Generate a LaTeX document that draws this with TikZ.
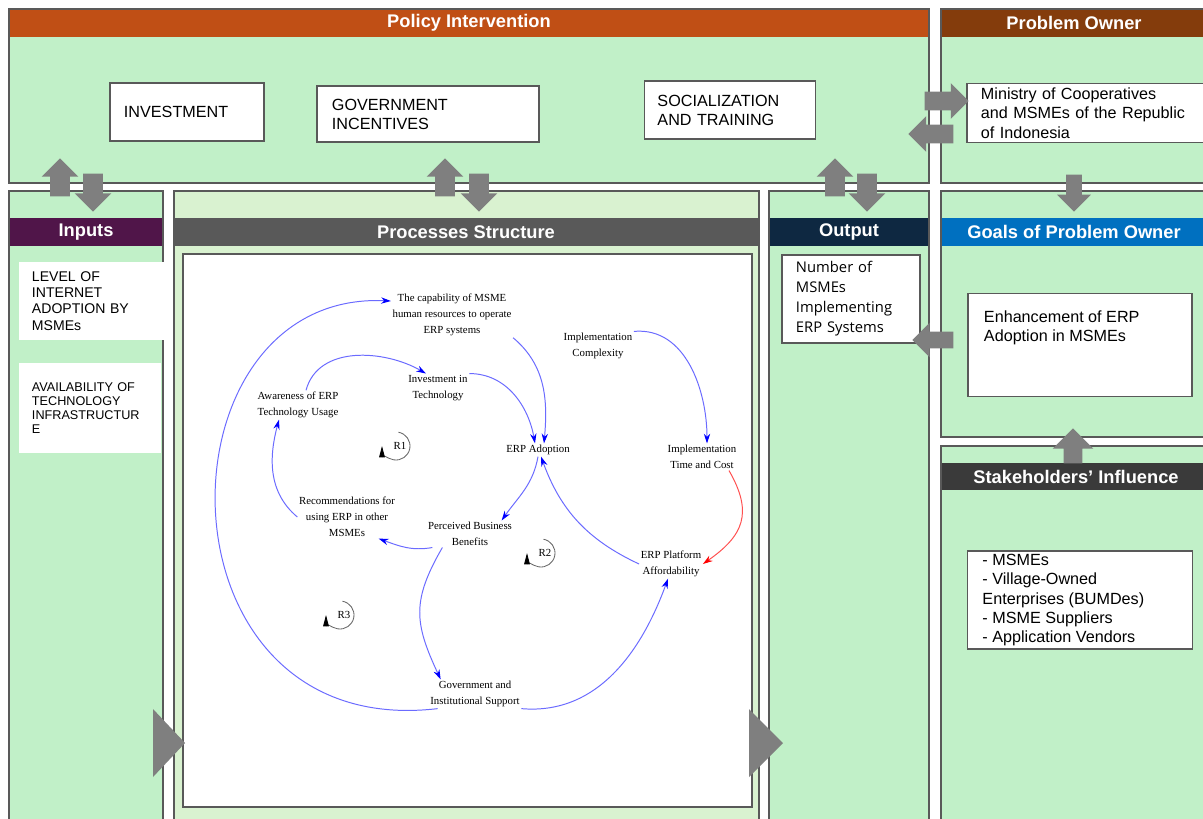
\documentclass[tikz,border=0pt]{standalone}
\usepackage{fontspec}
\setmainfont{Liberation Sans}
\newfontfamily\cldfont{Liberation Serif}
\newfontfamily\outfont{Open Sans}
\usetikzlibrary{arrows.meta,shapes.arrows,positioning}

\definecolor{panelgreen}{HTML}{C1F0C8}
\definecolor{procgreen}{HTML}{D9F2D0}
\definecolor{framegray}{HTML}{595959}
\definecolor{arrgray}{HTML}{7F7F7F}
\definecolor{policyhead}{HTML}{C04F15}
\definecolor{ownerhead}{HTML}{843C0C}
\definecolor{inputhead}{HTML}{501549}
\definecolor{processhead}{HTML}{595959}
\definecolor{outputhead}{HTML}{0E2841}
\definecolor{goalhead}{HTML}{0070C0}
\definecolor{stakehead}{HTML}{3A3A3A}
\definecolor{linkblue}{HTML}{6B6BFF}
\definecolor{linkred}{HTML}{FF5050}

\tikzset{
  panelframe/.style={draw=framegray, line width=1.6pt},
  hdr/.style={text=white, font=\bfseries\fontsize{13}{15}\selectfont, inner sep=0pt},
  wbox/.style={draw=framegray, line width=1.3pt, fill=white, align=left, font=\fontsize{11.5}{13.6}\selectfont, inner sep=0pt},
  inbox/.style={fill=white, align=left, inner sep=0pt},
  blockarr/.style={single arrow, fill=arrgray, inner xsep=0pt, inner ysep=0.2375cm, single arrow head extend=0.2125cm, single arrow tip angle=90},
  var/.style={align=center, font=\cldfont\fontsize{7.7}{11.4}\selectfont, inner sep=1pt},
  link/.style={linkblue, line width=0.7pt, -{Stealth[length=7pt,width=4.5pt,color=blue]}},
  neglink/.style={linkred, line width=0.7pt, -{Stealth[length=7pt,width=4.5pt,color=red]}},
  loopmark/.style={black!60, line width=0.6pt, -{Triangle[length=8pt,width=4pt,color=black]}}
}

\begin{document}
\begin{tikzpicture}[x=0.025cm, y=0.025cm]
	\useasboundingbox (0,0) rectangle (1203,-818);
	\clip (0,0) rectangle (1203,-818);
	
	%Panels
	%Policy Intervention
	\fill[panelgreen] (9,-9) rectangle (929,-183);
	\fill[policyhead] (9,-9) rectangle (929,-37);
	\draw[panelframe] (9,-9) rectangle (929,-183);
	\node[hdr] (policyhdr) at (469,-23) {Policy Intervention};
	%Problem Owner
	\fill[panelgreen] (941,-9) rectangle (1215,-183);
	\fill[ownerhead] (941,-9) rectangle (1215,-37);
	\draw[panelframe] (941,-9) rectangle (1215,-183);
	\node[hdr] (ownerhdr) at (1074,-23) {Problem Owner};
	%Inputs
	\fill[panelgreen] (9,-191) rectangle (163,-830);
	\fill[inputhead] (9,-218) rectangle (163,-246);
	\draw[panelframe] (9,-191) rectangle (163,-830);
	\node[hdr] (inputhdr) at (86,-232) {Inputs};
	%Processes
	\fill[procgreen] (174,-191) rectangle (759,-830);
	\fill[processhead] (174,-218) rectangle (759,-246);
	\draw[panelframe] (174,-191) rectangle (759,-830);
	\node[hdr] (prochdr) at (466,-232) {Processes Structure};
	\draw[panelframe, fill=white] (183,-254) rectangle (752,-807);
	%Output
	\fill[panelgreen] (769,-191) rectangle (929,-830);
	\fill[outputhead] (769,-218) rectangle (929,-246);
	\draw[panelframe] (769,-191) rectangle (929,-830);
	\node[hdr] (outhdr) at (849,-232) {Output};
	%Goals
	\fill[panelgreen] (941,-191) rectangle (1215,-437);
	\fill[goalhead] (941,-218) rectangle (1215,-246);
	\draw[panelframe] (941,-191) rectangle (1215,-437);
	\node[hdr] (goalhdr) at (1074,-232) {Goals of Problem Owner};
	%Stakeholders
	\fill[panelgreen] (941,-446) rectangle (1215,-830);
	\fill[stakehead] (941,-463) rectangle (1215,-490);
	\draw[panelframe] (941,-446) rectangle (1215,-830);
	\node[hdr] (stakehdr) at (1076,-477) {Stakeholders' Influence};
	
	%Boxes
	\node[wbox, minimum width=3.85cm, minimum height=1.45cm, text width=3.15cm] (invest) at (187,-112) {INVESTMENT};
	\node[wbox, minimum width=5.55cm, minimum height=1.4cm, text width=4.8cm] (incent) at (428,-114) {GOVERNMENT\\INCENTIVES};
	\node[wbox, minimum width=4.275cm, minimum height=1.45cm, text width=3.625cm] (social) at (730,-110) {SOCIALIZATION\\AND TRAINING};
	\node[wbox, font=\fontsize{11.5}{13.9}\selectfont, minimum width=6.15cm, minimum height=1.475cm, text width=5.45cm] (ministry) at (1090,-113) {Ministry of Cooperatives\\and MSMEs of the Republic\\of Indonesia};
	\node[inbox, font=\fontsize{10}{11.5}\selectfont, minimum width=3.65cm, minimum height=1.925cm, text width=3cm] (inetbox) at (92,-301) {LEVEL OF\\INTERNET\\ADOPTION BY\\MSMEs};
	\node[inbox, font=\fontsize{9}{10}\selectfont, minimum width=3.55cm, minimum height=2.25cm, text width=2.9cm] (infrabox) at (90,-408) {AVAILABILITY OF\\TECHNOLOGY\\INFRASTRUCTUR\\E};
	\node[wbox, font=\outfont\fontsize{10.5}{14.2}\selectfont, minimum width=3.45cm, minimum height=2.2cm, text width=2.75cm] (outbox) at (851,-299) {Number of\\MSMEs\\Implementing\\ERP Systems};
	\node[wbox, minimum width=5.6cm, minimum height=2.575cm] (goalbox) at (1080,-345) {\parbox[c][1.7cm][t]{4.8cm}{Enhancement of ERP\\Adoption in MSMEs}};
	\node[wbox, font=\fontsize{11.5}{13.8}\selectfont, minimum width=5.625cm, minimum height=2.45cm] (stakebox) at (1080,-600) {\parbox[c][2.3cm][t]{4.875cm}{- MSMEs\\- Village-Owned\\Enterprises (BUMDes)\\- MSME Suppliers\\- Application Vendors}};
	
	%Block arrows
	\node[blockarr, minimum height=0.95cm, rotate=90, anchor=tip] (inup) at (60,-158) {};
	\node[blockarr, minimum height=0.95cm, rotate=-90, anchor=tip] (indown) at (93,-212) {};
	\node[blockarr, minimum height=0.95cm, rotate=90, anchor=tip] (procup) at (445,-158) {};
	\node[blockarr, minimum height=0.95cm, rotate=-90, anchor=tip] (procdown) at (479,-212) {};
	\node[blockarr, minimum height=0.95cm, rotate=90, anchor=tip] (outup) at (835,-158) {};
	\node[blockarr, minimum height=0.95cm, rotate=-90, anchor=tip] (outdown) at (867,-212) {};
	\node[blockarr, minimum height=1.1cm, inner ysep=0.225cm] (toowner) at (942,-101) {};
	\node[blockarr, minimum height=1.125cm, inner ysep=0.225cm, rotate=180, anchor=tip] (fromowner) at (908,-134) {};
	\node[blockarr, minimum height=0.925cm, inner ysep=0.19cm, single arrow head extend=0.225cm, rotate=-90, anchor=tip] (togoal) at (1074,-212) {};
	\node[blockarr, minimum height=1.025cm, inner ysep=0.2cm, single arrow head extend=0.225cm, rotate=180, anchor=tip] (tooutput) at (912,-340) {};
	\node[blockarr, minimum height=0.875cm, inner ysep=0.225cm, single arrow head extend=0.275cm, rotate=90, anchor=tip] (fromstake) at (1073,-428) {};
	\fill[arrgray] (153,-709) -- (185,-743) -- (153,-777) -- cycle;
	\fill[arrgray] (749,-709) -- (783,-743) -- (749,-777) -- cycle;
	
	%Causal loop diagram
	\node[var] (capab) at (452,-315) {The capability of MSME\\human resources to operate\\ERP systems};
	\node[var] (complex) at (598,-346) {Implementation\\Complexity};
	\node[var] (invtech) at (438,-388) {Investment in\\Technology};
	\node[var] (aware) at (298,-405) {Awareness of ERP\\Technology Usage};
	\node[var] (adopt) at (538,-450) {ERP Adoption};
	\node[var] (timecost) at (702,-457) {Implementation\\Time and Cost};
	\node[var] (recom) at (347,-517) {Recommendations for\\using ERP in other\\MSMEs};
	\node[var] (benefit) at (470,-534) {Perceived Business\\Benefits};
	\node[var] (afford) at (671,-564) {ERP Platform\\Affordability};
	\node[var] (govsup) at (475,-694) {Government and\\Institutional Support};
	
	\draw[link] ([xshift=0.2cm]aware.north) to[out=75,in=150] ([xshift=-0.3cm]invtech.north);
	\draw[link] (invtech.north east) to[out=0,in=100] ([xshift=-0.075cm]adopt.north);
	\draw[link] (capab.south east) to[out=-40,in=85] ([xshift=0.15cm]adopt.north);
	\draw[link] (complex.north east) to[out=5,in=90] ([xshift=0.125cm]timecost.north);
	\draw[link] (adopt.south) to[out=-100,in=55] ([xshift=-0.3cm]benefit.north east);
	\draw[link] ([xshift=0.15cm]benefit.south west) to[out=190,in=-20] ([xshift=-0.45cm]recom.south east);
	\draw[link] (recom.west) to[out=140,in=-105] ([xshift=-0.475cm]aware.south);
	\draw[link] ([xshift=0.4cm]benefit.south west) to[out=240,in=115,looseness=1.2] ([xshift=0.3cm]govsup.north west);
	\draw[link] ([xshift=0.225cm]govsup.south west) .. controls +(-289,-34) and +(-239,11) .. ([yshift=0.35cm]capab.west);
	\draw[link] (govsup.south east) to[out=-5,in=250] ([xshift=-0.075cm]afford.south);
	\draw[link] (afford.west) to[out=155,in=-70] ([xshift=0.075cm]adopt.south);
	\draw[neglink] ([xshift=-0.225cm]timecost.south east) to[out=-60,in=35,looseness=1.3] (afford.east);
	
	%Loops
	\draw[loopmark] (396,-446) ++(80:0.35cm) arc[start angle=80, end angle=-180, radius=0.35cm];
	\node[var] (loopr1) at (400,-446) {R1};
	\draw[loopmark] (541,-553) ++(80:0.35cm) arc[start angle=80, end angle=-180, radius=0.35cm];
	\node[var] (loopr2) at (545,-553) {R2};
	\draw[loopmark] (340,-615) ++(80:0.35cm) arc[start angle=80, end angle=-180, radius=0.35cm];
	\node[var] (loopr3) at (344,-615) {R3};
\end{tikzpicture}
\end{document}
